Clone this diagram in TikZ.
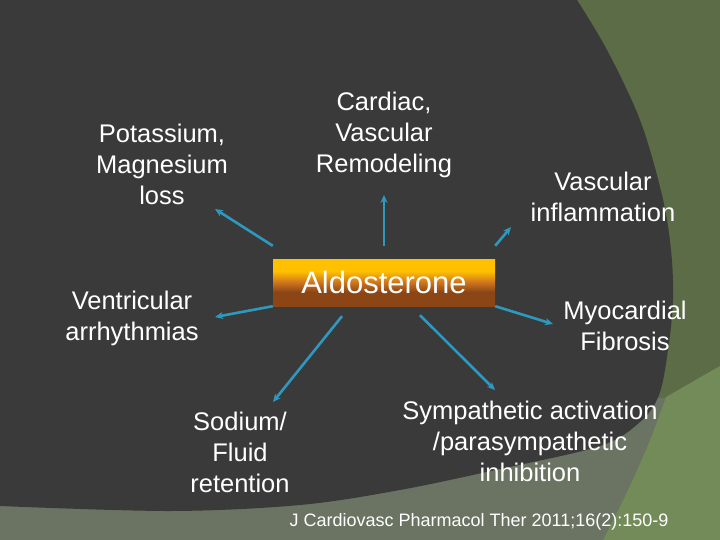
\documentclass[tikz,border=0pt]{standalone}
\usepackage{fontspec}
\setmainfont{Liberation Sans}
\usetikzlibrary{arrows.meta,calc}
\definecolor{bgdark}{RGB}{58,58,58}
\definecolor{bggreen}{RGB}{92,108,70}
\definecolor{bglight}{RGB}{115,139,89}
\definecolor{bggray}{RGB}{107,116,98}
\definecolor{arrowblue}{RGB}{46,152,190}
\definecolor{aldotop}{RGB}{255,192,0}
\definecolor{aldomid}{RGB}{205,115,30}
\definecolor{aldobot}{RGB}{140,70,22}
\pgfdeclareverticalshading{aldoshade}{100bp}{color(0bp)=(aldobot); color(25bp)=(aldobot); color(40bp)=(aldobot); color(50bp)=(aldomid); color(62bp)=(aldotop); color(75bp)=(aldotop); color(100bp)=(aldotop)}
\tikzset{
  lbl/.style={text=white, font=\fontsize{25.5}{31}\selectfont, align=center, inner sep=0pt},
  aldobox/.style={shading=aldoshade, minimum width=222pt, minimum height=47pt, inner sep=0pt, text=white, font=\fontsize{31}{36}\selectfont},
  citestyle/.style={text=white, font=\fontsize{18}{22}\selectfont, inner sep=0pt},
  conn/.style={draw=arrowblue, line width=2.6pt, -{Stealth[length=8pt,width=7pt]}}
}
\begin{document}
\begin{tikzpicture}[x=1pt,y=-1pt]
\useasboundingbox (0,0) rectangle (720,540);
% background
\fill[bggreen] (0,0) rectangle (720,540);
\fill[bggray] (0,398) -- (666,398) -- plot[smooth] coordinates {(666,398) (650,440) (628,490) (603,540)} -- (0,540) -- cycle;
\fill[bglight] (720,366) -- plot[smooth] coordinates {(666,397) (650,440) (628,490) (603,540)} -- (720,540) -- cycle;
\fill[bgdark] (0,0) -- plot[smooth, tension=0.55] coordinates {(577,0) (607,50) (640,120) (662,195) (671,250) (673,300) (668,350) (659,395) (640,422) (600,446) (500,469) (400,490) (300,505) (170,511) (0,506)} -- cycle;
% central box
\node[aldobox] (aldo) at (384,282.5) {Aldosterone};
% labels
\node[lbl] (potassium) at (162,164) {Potassium,\\Magnesium\\loss};
\node[lbl] (cardiac) at (384,135) {Cardiac,\\Vascular\\Remodeling};
\node[lbl] (vascinfl) at (603,197) {Vascular\\inflammation};
\node[lbl] (ventric) at (132,318.5) {Ventricular\\arrhythmias};
\node[lbl] (myo) at (625,325.5) {Myocardial\\Fibrosis};
\node[lbl] (sodium) at (240,452) {Sodium/\\Fluid\\retention};
\node[lbl] (symp) at (530,441) {Sympathetic activation\\/parasympathetic\\inhibition};
\node[citestyle] (cite) at (479,522) {J Cardiovasc Pharmacol Ther 2011;16(2):150-9};
% arrow ends
\coordinate (e1) at (215,209);
\coordinate (e2) at (384,195);
\coordinate (e3) at (511,227);
\coordinate (e4) at (215,317);
\coordinate (e5) at (553,324);
\coordinate (e6) at (273,402);
\coordinate (e7) at (495,390);
% connectors
\draw[conn] ($(aldo.north west)+(0,-13)$) -- (e1);
\draw[conn] ($(aldo.north)+(0,-13)$) -- (e2);
\draw[conn] ($(aldo.north east)+(0,-13)$) -- (e3);
\draw[conn] (aldo.south west) -- (e4);
\draw[conn] (aldo.south east) -- (e5);
\draw[conn] ($(aldo.south)+(-42,10)$) -- (e6);
\draw[conn] ($(aldo.south)+(36,9)$) -- (e7);
\end{tikzpicture}
\end{document}
